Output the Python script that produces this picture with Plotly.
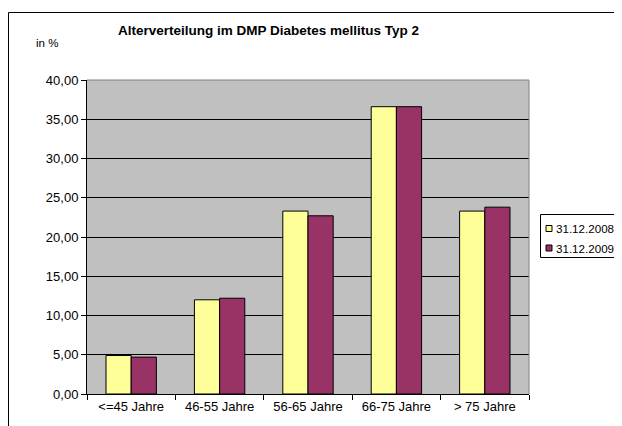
import plotly.graph_objects as go

categories = ["<=45 Jahre", "46-55 Jahre", "56-65 Jahre", "66-75 Jahre", "> 75 Jahre"]
series_names = ["31.12.2008", "31.12.2009"]
series_colors = ["#FFFF99", "#993366"]
values_2008 = [4.9, 12.0, 23.3, 36.6, 23.3]
values_2009 = [4.7, 12.2, 22.7, 36.6, 23.8]
y_ticks = [0, 5, 10, 15, 20, 25, 30, 35, 40]

# page body has an 8px margin; work in screen pixels and convert
OFF = 8
W, H = 614, 418
SL, SR, ST, SB = 87, 529, 80, 394          # plot area in screen pixels
L, R, T, B = SL - OFF, SR - OFF, ST - OFF, SB - OFF
pw, ph = R - L, B - T

def px_x(sx):
    return (sx - SL) / pw

def px_y(sy):
    return (SB - sy) / ph

font = "Liberation Sans, Arial, sans-serif"

fig = go.Figure()
for name, vals, col in zip(series_names, [values_2008, values_2009], series_colors):
    fig.add_trace(go.Bar(x=categories, y=vals, name=name, showlegend=False,
                         marker=dict(color=col, line=dict(color="black", width=1))))

shapes = [
    # outer chart frame
    dict(type="rect", xref="paper", yref="paper",
         x0=(0.5 - L) / pw, x1=px_x(700), y0=px_y(500), y1=px_y(12.5),
         line=dict(color="black", width=1), layer="below"),
    # plot area border (top/right)
    dict(type="line", xref="paper", yref="paper", x0=0, x1=1, y0=1, y1=1,
         line=dict(color="#808080", width=1)),
    dict(type="line", xref="paper", yref="paper", x0=1, x1=1, y0=0, y1=1,
         line=dict(color="#808080", width=1)),
    # legend box
    dict(type="rect", xref="paper", yref="paper",
         x0=px_x(540.5), x1=px_x(700), y0=px_y(257.5), y1=px_y(214.5),
         line=dict(color="black", width=1), fillcolor="white", layer="below"),
]
annotations = [
    dict(text="<b>Alterverteilung im DMP Diabetes mellitus Typ 2</b>",
         x=px_x(268), y=px_y(30), xref="paper", yref="paper",
         xanchor="center", yanchor="middle", showarrow=False,
         font=dict(size=13.5)),
    dict(text="in %", x=px_x(34), y=px_y(43), xref="paper", yref="paper",
         xanchor="left", yanchor="middle", showarrow=False,
         font=dict(size=11.5)),
]
legend_rows = [228.5, 248]
for name, col, ry in zip(series_names, series_colors, legend_rows):
    shapes.append(dict(type="rect", xref="paper", yref="paper",
                       x0=px_x(546), x1=px_x(552), y0=px_y(ry + 3), y1=px_y(ry - 3),
                       line=dict(color="black", width=1), fillcolor=col))
    annotations.append(dict(text=name, x=px_x(554), y=px_y(ry), xref="paper", yref="paper",
                            xanchor="left", yanchor="middle", showarrow=False,
                            font=dict(size=11.6)))

fig.update_layout(
    width=W, height=H,
    margin=dict(l=L, r=W - R, t=T, b=H - B, pad=0, autoexpand=False),
    paper_bgcolor="white", plot_bgcolor="#C0C0C0",
    barmode="group", bargap=0.43, bargroupgap=0,
    separators=",.",
    font=dict(family=font, size=13, color="black"),
    showlegend=False,
    xaxis=dict(showgrid=False, showline=True, linecolor="black", linewidth=1,
               ticks="outside", tickson="boundaries", ticklen=5, tickcolor="black",
               tickfont=dict(size=13), fixedrange=True, automargin=False),
    yaxis=dict(range=[0, 40], tickvals=y_ticks, tickformat=".2f",
               showgrid=True, gridcolor="black", gridwidth=1,
               showline=True, linecolor="black", linewidth=1,
               ticks="outside", ticklen=5, tickcolor="black",
               tickfont=dict(size=13), zeroline=False, fixedrange=True,
               automargin=False),
    annotations=annotations,
    shapes=shapes,
)

fig.write_html("out.html")
